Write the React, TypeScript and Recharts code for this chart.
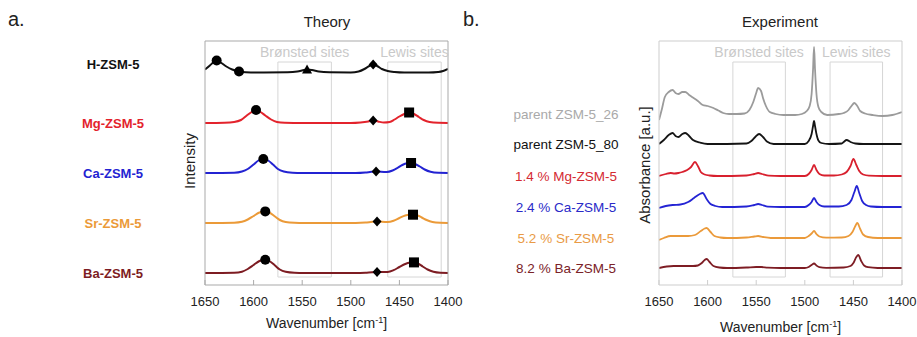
import { ComposedChart, Line, Scatter, XAxis, YAxis, ReferenceArea } from "recharts"

type Pt = [number, number]

const wavenumberTicks = [1650, 1600, 1550, 1500, 1450, 1400]

// ---- Theory: computed spectra, intensity measured above each trace's baseline ----
const theoryNames = ["H-ZSM-5", "Mg-ZSM-5", "Ca-ZSM-5", "Sr-ZSM-5", "Ba-ZSM-5"]
const theoryColors = ["#111111", "#e3232c", "#2323d2", "#eb9a38", "#7d1c22"]
const theoryOffsets = [212.5, 162, 112, 62, 12]
const theoryLabelLevels = [221, 162, 112, 62, 12]

const hTheory: Pt[] = [
  [1650, 3], [1645, 7], [1641, 10.5], [1638, 12], [1634, 10], [1628, 6], [1622, 3],
  [1615, 1], [1608, 0.3], [1590, 0], [1565, 0.2], [1555, 1], [1548, 2.5], [1545, 3],
  [1540, 2.5], [1533, 1], [1522, 0.2], [1500, 0], [1492, 1], [1486, 3.5], [1481, 6.5],
  [1477, 8], [1473, 6.5], [1468, 3.5], [1462, 1.5], [1455, 0.5], [1445, 0], [1420, 0],
  [1410, 0.5], [1405, 1.5], [1400, 3.5],
]
const mgTheory: Pt[] = [
  [1650, 0], [1630, 0.3], [1620, 1], [1613, 3], [1607, 7.5], [1602, 11], [1597.5, 13],
  [1593, 11], [1588, 7.5], [1582, 3.5], [1576, 1], [1568, 0.2], [1550, 0], [1500, 0],
  [1490, 0.5], [1482, 1.5], [1477, 2.5], [1472, 1.5], [1466, 0.5], [1460, 1], [1455, 3.5],
  [1450, 6.5], [1445, 9], [1440, 10.5], [1435, 9], [1430, 6], [1425, 3], [1419, 1],
  [1410, 0.2], [1400, 0],
]
const caTheory: Pt[] = [
  [1650, 0], [1620, 0.3], [1612, 1.5], [1606, 4], [1600, 8.5], [1595, 12.5], [1590, 14],
  [1585, 12.5], [1580, 8.5], [1575, 4], [1569, 1.5], [1560, 0.3], [1550, 0], [1495, 0],
  [1485, 0.5], [1479, 1.2], [1474, 1.6], [1469, 1.2], [1463, 1], [1457, 2.5], [1452, 5],
  [1447, 8], [1442, 9.7], [1438, 10], [1434, 9], [1429, 6.5], [1424, 3.5], [1418, 1.2],
  [1410, 0.2], [1400, 0],
]
const srTheory: Pt[] = [
  [1650, 0], [1620, 0.3], [1612, 1.2], [1606, 3.5], [1600, 7], [1594, 10.5], [1588, 11.6],
  [1583, 10], [1578, 6.5], [1573, 3], [1567, 1], [1558, 0.2], [1548, 0], [1495, 0],
  [1485, 0.4], [1478, 1.2], [1473, 1.6], [1468, 1.2], [1462, 1], [1456, 2.3], [1450, 5],
  [1444, 7.5], [1440, 8.2], [1436, 8.3], [1432, 7.8], [1427, 5.5], [1422, 3], [1416, 1],
  [1408, 0.2], [1400, 0],
]
const baTheory: Pt[] = [
  [1650, 0], [1620, 0.3], [1612, 1.3], [1606, 4], [1600, 8], [1594, 12], [1588, 13.3],
  [1583, 11.5], [1578, 7.5], [1573, 3.5], [1567, 1.2], [1558, 0.2], [1548, 0], [1495, 0],
  [1485, 0.3], [1478, 0.8], [1473, 1], [1468, 0.9], [1462, 1], [1456, 2.8], [1450, 6],
  [1444, 9], [1440, 10.3], [1435, 10.6], [1431, 9.5], [1426, 6.5], [1421, 3.5], [1415, 1.2],
  [1408, 0.2], [1400, 0],
]
const theorySpectra = [hTheory, mgTheory, caTheory, srTheory, baTheory]

// peak markers: [spectrum index, wavenumber]
const circlePeaks: Pt[] = [[0, 1638], [0, 1615], [1, 1597.5], [2, 1590], [3, 1588], [4, 1588]]
const trianglePeaks: Pt[] = [[0, 1545]]
const diamondPeaks: Pt[] = [[0, 1477], [1, 1477], [2, 1474], [3, 1473], [4, 1473]]
const squarePeaks: Pt[] = [[1, 1440], [2, 1438], [3, 1436], [4, 1435]]

// ---- Experiment: measured absorbance, stacked ----
const expNames = [
  "parent ZSM-5_26", "parent ZSM-5_80", "1.4 % Mg-ZSM-5",
  "2.4 % Ca-ZSM-5", "5.2 % Sr-ZSM-5", "8.2 % Ba-ZSM-5",
]
const expColors = ["#9b9b9b", "#151515", "#d8202e", "#2424d4", "#eb9a3a", "#7e1d24"]
const expLabelColors = ["#a9a9a9", "#111111", "#d42a32", "#2a2ac8", "#e99a45", "#7a2228"]
const expOffsets = [171, 141, 109, 78, 47, 17]

const parent26: Pt[] = [
  [1650, -6], [1647, 5], [1644, 17], [1640, 22], [1636, 24], [1633, 21], [1630, 20],
  [1626, 22], [1623, 22], [1619, 19], [1616, 17], [1610, 13], [1605, 9], [1600, 8],
  [1594, 6], [1589, 3.5], [1584, 1], [1578, 0], [1570, 0], [1562, 0.5], [1557, 4],
  [1553, 12], [1550, 21], [1548, 26], [1545, 23], [1543, 16], [1540, 8], [1536, 2],
  [1530, 0], [1522, -1], [1510, -1], [1503, 0], [1498, 3], [1495, 8], [1493, 20],
  [1491.5, 45], [1490.5, 67], [1489.5, 45], [1488, 20], [1486, 7], [1483, 2], [1477, -1],
  [1465, 0], [1460, 1], [1455, 4], [1452, 8], [1449, 11], [1446, 8], [1443, 3],
  [1438, 0.5], [1430, -1], [1420, -2], [1410, -1], [1400, 2],
]
const parent80: Pt[] = [
  [1650, 0], [1645, 4], [1640, 9], [1636, 11], [1633, 8], [1630, 7], [1626, 10],
  [1623, 11], [1619, 8], [1615, 4], [1608, 1.5], [1600, 0], [1560, 0.5], [1555, 3],
  [1551, 7], [1547, 10], [1543, 7], [1539, 2.5], [1532, 0], [1500, 0], [1496, 3],
  [1493, 10], [1491.5, 18], [1490.5, 23], [1489.5, 18], [1488, 10], [1486, 3.5],
  [1483, 1], [1475, 0], [1462, 0.5], [1460, 2], [1457, 4], [1453, 2], [1448, 0.5],
  [1440, 0], [1400, 0],
]
const mgExp: Pt[] = [
  [1650, 0], [1643, 2], [1638, 3], [1634, 2.5], [1630, 3], [1626, 4], [1621, 6],
  [1617, 9], [1613, 14], [1610, 10], [1607, 4], [1603, 1.5], [1598, 0.5], [1590, 0],
  [1560, 0.5], [1552, 2], [1548, 3], [1544, 2], [1537, 0.3], [1525, 0], [1500, 0],
  [1496, 2], [1493, 6], [1490.5, 11], [1488, 6], [1485, 2], [1480, 0.5], [1470, 0.5],
  [1462, 1.5], [1457, 4], [1453, 10], [1450, 17], [1447, 11], [1444, 5], [1440, 1.5],
  [1434, 0.3], [1420, 0], [1400, 0],
]
const caExp: Pt[] = [
  [1650, -1], [1643, 1], [1636, 2], [1628, 2.5], [1620, 5], [1614, 9], [1608, 13],
  [1605, 14], [1601, 8], [1597, 3], [1592, 1], [1585, 0], [1560, 0.5], [1552, 2],
  [1548, 3], [1544, 2], [1538, 0.3], [1525, 0], [1500, 0], [1496, 2], [1493, 5],
  [1490.5, 9], [1488, 5], [1485, 2], [1480, 0.5], [1465, 0.5], [1457, 2], [1452, 7],
  [1449, 15], [1446.5, 21], [1444, 14], [1441, 6], [1437, 2], [1432, 0.5], [1420, 0],
  [1400, 0],
]
const srExp: Pt[] = [
  [1650, -2], [1645, 0], [1638, 2], [1630, 2], [1620, 2], [1613, 3], [1607, 7],
  [1603, 9.5], [1601, 10], [1597, 6], [1593, 2], [1587, 0.5], [1580, 0], [1560, 0.5],
  [1552, 1.5], [1548, 2], [1543, 1], [1535, 0], [1500, 0], [1496, 2], [1493, 4.5],
  [1490.5, 7], [1488, 4], [1485, 1.5], [1478, 0.3], [1462, 0.5], [1455, 2], [1451, 6],
  [1448, 12], [1446, 15], [1443, 9], [1440, 3.5], [1435, 1], [1425, 0], [1400, 0],
]
const baExp: Pt[] = [
  [1650, 0], [1642, 1.5], [1635, 2], [1625, 2], [1615, 2], [1610, 2.5], [1606, 5],
  [1603, 8], [1601, 9], [1598, 6], [1594, 2], [1588, 0.5], [1580, 0], [1560, 0.5],
  [1550, 1], [1545, 1], [1538, 0.3], [1525, 0], [1500, 0], [1496, 1], [1493, 3],
  [1490.5, 4.5], [1488, 2.5], [1485, 0.8], [1478, 0.2], [1460, 0.5], [1453, 2],
  [1450, 5], [1447, 11], [1445, 13], [1442, 7], [1439, 2.5], [1435, 0.8], [1425, 0],
  [1400, 0],
]
const expSpectra = [parent26, parent80, mgExp, caExp, srExp, baExp]

// band regions [from, to] in cm-1
const theoryBronsted: Pt = [1575, 1520]
const theoryLewis: Pt = [1462, 1407]
const expBronsted: Pt = [1574, 1520]
const expLewis: Pt = [1474, 1420]

const Y_MAX = 244
const BOX_BOTTOM = 8
const BOX_TOP = 223
const FONT = "'Liberation Sans', Arial, sans-serif"

const toSeries = (pts: Pt[], offset: number) => pts.map(([x, y]) => ({ x, y: y + offset }))

const markerData = (peaks: Pt[]) =>
  peaks.map(([i, x]) => {
    const p = theorySpectra[i].find((q) => q[0] === x)
    return { x, y: (p ? p[1] : 0) + theoryOffsets[i] }
  })

const markerShape = (kind: string) => (p: any) => {
  const { cx, cy } = p
  if (kind === "circle") return <circle cx={cx} cy={cy} r={5} fill="#000" />
  if (kind === "square") return <rect x={cx - 5} y={cy - 5} width={10} height={10} fill="#000" />
  if (kind === "diamond")
    return <polygon points={`${cx},${cy - 5} ${cx + 4.5},${cy} ${cx},${cy + 5} ${cx - 4.5},${cy}`} fill="#000" />
  return <polygon points={`${cx},${cy - 5} ${cx + 5},${cy + 4} ${cx - 5},${cy + 4}`} fill="#000" />
}

const XTitle = (props: any) => {
  const { viewBox, dy } = props
  const cx = viewBox.x + viewBox.width / 2
  return (
    <text x={cx} y={viewBox.y + dy} textAnchor="middle" fontSize={14} fill="#222" fontFamily={FONT}>
      Wavenumber [cm<tspan dy={-5} fontSize={9}>-1</tspan>
      <tspan dy={5}>]</tspan>
    </text>
  )
}

const YTitle = (props: any) => {
  const { viewBox, text, dx, cy } = props
  const x = viewBox.x + viewBox.width - dx
  return (
    <text x={x} y={cy} transform={`rotate(-90, ${x}, ${cy})`} textAnchor="middle" dy="0.35em"
      fontSize={15} fill="#222" fontFamily={FONT}>
      {text}
    </text>
  )
}

type PanelProps = {
  width: number
  plotLeft: number
  plotRight: number
  names: string[]
  labelColors: string[]
  colors: string[]
  offsets: number[]
  labelLevels: number[]
  spectra: Pt[][]
  labelX: number
  labelWeight: string
  labelSize: number
  lineWidth: number
  bronsted: Pt
  lewis: Pt
  frame: string
  yTitle: string
  yTitleDx: number
  yTitleY: number
  xTitleDy: number
  markers: boolean
}

function SpectraPanel(p: PanelProps) {
  const NameTick = (t: any) => {
    const i = p.labelLevels.indexOf(t.payload.value)
    return (
      <text x={p.labelX} y={t.y} dy="0.35em" textAnchor="middle" fontSize={p.labelSize}
        fontWeight={p.labelWeight} fill={p.labelColors[i]} fontFamily={FONT}>
        {p.names[i]}
      </text>
    )
  }
  const siteLabel = (value: string) => ({
    value, position: "top" as const, offset: 5, fill: "#c9c9c9", fontSize: 14, fontFamily: FONT,
  })

  return (
    <ComposedChart width={p.width} height={337}
      margin={{ top: 21, right: p.width - p.plotRight - 1, bottom: 0, left: 0 }}>
      <XAxis dataKey="x" type="number" domain={[1400, 1650]} reversed allowDataOverflow
        ticks={wavenumberTicks} interval={0} tickSize={-5} tickMargin={17} height={52}
        axisLine={{ stroke: p.frame }} tickLine={{ stroke: p.frame }}
        tick={{ fontSize: 13, fill: "#222", fontFamily: FONT }}
        label={<XTitle dy={p.xTitleDy} />} />
      <XAxis xAxisId="top" orientation="top" type="number" domain={[1400, 1650]} reversed
        allowDataOverflow ticks={wavenumberTicks} interval={0} tickSize={-5} height={20}
        axisLine={{ stroke: p.frame }} tickLine={{ stroke: p.frame }} tick={false} />
      <YAxis type="number" domain={[0, Y_MAX]} allowDataOverflow width={p.plotLeft}
        ticks={p.labelLevels} interval={0} tickLine={false} axisLine={{ stroke: p.frame }}
        tick={NameTick}
        label={<YTitle text={p.yTitle} dx={p.yTitleDx} cy={p.yTitleY} />} />
      <YAxis yAxisId="right" orientation="right" type="number" domain={[0, Y_MAX]} width={1}
        tick={false} tickLine={false} axisLine={{ stroke: p.frame }} />

      <ReferenceArea x1={p.bronsted[0]} x2={p.bronsted[1]} y1={BOX_BOTTOM} y2={BOX_TOP}
        fill="none" stroke="#d6d6d6" strokeWidth={1} label={siteLabel("Brønsted sites")} />
      <ReferenceArea x1={p.lewis[0]} x2={p.lewis[1]} y1={BOX_BOTTOM} y2={BOX_TOP}
        fill="none" stroke="#d6d6d6" strokeWidth={1} label={siteLabel("Lewis sites")} />

      {p.spectra.map((s, i) => (
        <Line key={p.names[i]} data={toSeries(s, p.offsets[i])} dataKey="y" type="monotone"
          stroke={p.colors[i]} strokeWidth={p.lineWidth} dot={false} activeDot={false}
          isAnimationActive={false} />
      ))}

      {p.markers && (
        <Scatter data={markerData(circlePeaks)} dataKey="y" shape={markerShape("circle")} isAnimationActive={false} />
      )}
      {p.markers && (
        <Scatter data={markerData(trianglePeaks)} dataKey="y" shape={markerShape("triangle")} isAnimationActive={false} />
      )}
      {p.markers && (
        <Scatter data={markerData(diamondPeaks)} dataKey="y" shape={markerShape("diamond")} isAnimationActive={false} />
      )}
      {p.markers && (
        <Scatter data={markerData(squarePeaks)} dataKey="y" shape={markerShape("square")} isAnimationActive={false} />
      )}
    </ComposedChart>
  )
}

export default function App() {
  return (
    <div style={{ position: "absolute", left: 0, top: 0, width: 917, height: 337, background: "#fff" }}>
      <div style={{ position: "absolute", left: 0, top: 0 }}>
        <SpectraPanel width={472} plotLeft={205} plotRight={448} names={theoryNames}
          labelColors={theoryColors} colors={theoryColors} offsets={theoryOffsets}
          labelLevels={theoryLabelLevels} spectra={theorySpectra} labelX={113}
          labelWeight="bold" labelSize={13} lineWidth={2} bronsted={theoryBronsted} lewis={theoryLewis}
          frame="#a9a9a9" yTitle="Intensity" yTitleDx={15} yTitleY={161} xTitleDy={43} markers />
      </div>
      <div style={{ position: "absolute", left: 460, top: 0 }}>
        <SpectraPanel width={457} plotLeft={199} plotRight={442} names={expNames}
          labelColors={expLabelColors} colors={expColors} offsets={expOffsets}
          labelLevels={expOffsets} spectra={expSpectra} labelX={106}
          labelWeight="normal" labelSize={13.5} lineWidth={1.8} bronsted={expBronsted} lewis={expLewis}
          frame="#cdcdcd" yTitle="Absorbance [a.u.]" yTitleDx={14} yTitleY={165} xTitleDy={47}
          markers={false} />
      </div>
      <svg width={917} height={337} style={{ position: "absolute", left: 0, top: 0, pointerEvents: "none" }}
        fontFamily={FONT}>
        <text x={8} y={26} fontSize={20} fill="#222">a.</text>
        <text x={463} y={26} fontSize={20} fill="#222">b.</text>
        <text x={327} y={27} fontSize={15} fill="#222" textAnchor="middle">Theory</text>
        <text x={780} y={27} fontSize={15} fill="#222" textAnchor="middle">Experiment</text>
      </svg>
    </div>
  )
}
